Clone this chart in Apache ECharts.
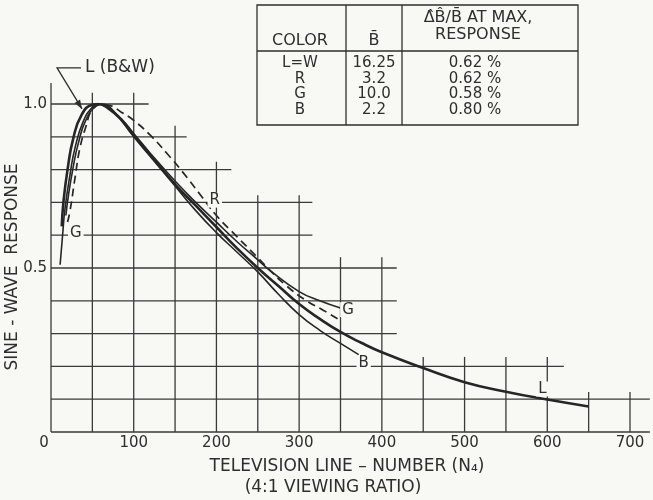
<!DOCTYPE html>
<html>
<head>
<meta charset="utf-8">
<script src="https://cdn.jsdelivr.net/npm/echarts@6/dist/echarts.min.js"></script>
<style>
  html, body { margin: 0; padding: 0; background: #f8f8f4; }
  #chart { width: 653px; height: 500px; }
</style>
</head>
<body>
<div id="chart"></div>
<script>
// Sine-wave response of luminance (B&W) and the three colour primaries
// plotted against television line-number.

const xTicks = [0, 100, 200, 300, 400, 500, 600, 700];
const yTicks = [0, 0.5, 1.0];

// Luminance (L = W), heavy solid curve
const lumaPoints = [
  [13, 0.627], [15, 0.70], [20, 0.80], [27, 0.896], [37, 0.967], [50, 0.998],
  [57, 1.0], [70, 0.985], [85, 0.952], [100, 0.905], [120, 0.845], [150, 0.755],
  [175, 0.69], [200, 0.625], [225, 0.56], [250, 0.50], [275, 0.445], [300, 0.39],
  [325, 0.345], [350, 0.305], [375, 0.272], [400, 0.243], [450, 0.195],
  [500, 0.152], [550, 0.123], [600, 0.099], [650, 0.078]
];
// Red, dashed curve
const redPoints = [
  [20, 0.64], [23, 0.674], [29, 0.774], [35, 0.866], [43, 0.937], [49, 0.979],
  [60, 0.998], [70, 0.996], [85, 0.975], [100, 0.95], [120, 0.905], [140, 0.85],
  [160, 0.79], [180, 0.725], [200, 0.66], [225, 0.595], [249, 0.534], [265, 0.492],
  [285, 0.445], [309, 0.40], [330, 0.37], [348, 0.343]
];
// Green, thin solid curve
const greenPoints = [
  [11, 0.51], [14, 0.60], [17, 0.683], [23, 0.785], [29, 0.866], [39, 0.947],
  [50, 0.99], [58, 1.0], [70, 0.988], [85, 0.955], [100, 0.91], [120, 0.85],
  [150, 0.765], [175, 0.70], [200, 0.64], [225, 0.58], [250, 0.525], [265, 0.492],
  [300, 0.428], [325, 0.40], [350, 0.378]
];
// Blue, thin solid curve
const bluePoints = [
  [18, 0.66], [21, 0.72], [27, 0.81], [33, 0.88], [42, 0.95], [55, 0.995],
  [62, 1.0], [75, 0.98], [100, 0.90], [120, 0.84], [150, 0.75], [175, 0.675],
  [200, 0.608], [225, 0.548], [250, 0.488], [275, 0.42], [300, 0.358],
  [325, 0.31], [350, 0.27], [372, 0.236]
];

// Stepped ruling: horizontal rules [y, xEnd], vertical rules [x, yTop]
const hRules = [
  [0, 724], [0.1, 724], [0.2, 620], [0.3, 418], [0.4, 418], [0.5, 418],
  [0.6, 316], [0.7, 316], [0.8, 218], [0.9, 164], [1.0, 118]
];
const vRules = [
  [0, 1.064], [50, 1.034], [100, 1.034], [150, 0.934], [200, 0.824],
  [250, 0.722], [300, 0.722], [350, 0.533], [400, 0.533], [450, 0.229],
  [500, 0.229], [550, 0.229], [600, 0.229], [650, 0.122], [700, 0.122]
];

// Curve identification letters [x, y, text]
const curveLabels = [
  [198, 0.707, 'R'], [30, 0.606, 'G'], [359, 0.373, 'G'],
  [378, 0.21, 'B'], [594, 0.131, 'L']
];
// Luminance callout: text anchor, then bent arrow path
const calloutText = [41, 1.11, 'L (B&W)'];
const calloutPath = [[36.3, 1.11], [7.3, 1.11], [37.5, 0.985]];

// Table of mean signal and ripple
const tableColors = ['L=W', 'R', 'G', 'B'];
const tableMeanB = ['16.25', '3.2', '10.0', '2.2'];
const tableRipple = ['0.62 %', '0.62 %', '0.58 %', '0.80 %'];

const INK = '#2e2e2e';
const PAPER = '#f8f8f4';
const FONT = '"DejaVu Sans", sans-serif';

const ruleSegments = [];
hRules.forEach(([y, xe]) => ruleSegments.push([0, y, xe, y]));
vRules.forEach(([x, yt]) => ruleSegments.push([x, 0, x, yt]));

// Table graphic elements
const tbl = { left: 257, top: 5, right: 578, bottom: 125, col1: 346, col2: 402, head: 51 };
const tableEls = [
  { type: 'rect', shape: { x: tbl.left, y: tbl.top, width: tbl.right - tbl.left, height: tbl.bottom - tbl.top },
    style: { fill: PAPER, stroke: INK, lineWidth: 1.3 } },
  { type: 'line', shape: { x1: tbl.left, y1: tbl.head, x2: tbl.right, y2: tbl.head }, style: { stroke: INK, lineWidth: 1.3 } },
  { type: 'line', shape: { x1: tbl.col1, y1: tbl.top, x2: tbl.col1, y2: tbl.bottom }, style: { stroke: INK, lineWidth: 1.3 } },
  { type: 'line', shape: { x1: tbl.col2, y1: tbl.top, x2: tbl.col2, y2: tbl.bottom }, style: { stroke: INK, lineWidth: 1.3 } }
];
function tText(x, y, text, size) {
  return { type: 'text', x: x, y: y,
    style: { text: text, fill: INK, font: size + 'px ' + FONT, textAlign: 'center', textVerticalAlign: 'middle' } };
}
tableEls.push(tText(300, 41, 'COLOR', 16));
tableEls.push(tText(374, 41, 'B\u0304', 16));
tableEls.push(tText(478, 18, 'Δ\u0302B\u0302/B\u0304 AT MAX,', 16));
tableEls.push(tText(478, 35, 'RESPONSE', 16));
const rowY = [63, 79, 94.5, 110];
tableColors.forEach((c, i) => {
  tableEls.push(tText(300, rowY[i], c, 15));
  tableEls.push(tText(374, rowY[i], tableMeanB[i], 15));
  tableEls.push(tText(475, rowY[i], tableRipple[i], 15));
});

const chart = echarts.init(document.getElementById('chart'), null, { renderer: 'canvas' });

function curve(name, points, width, dash) {
  return {
    type: 'line', name: name, data: points, z: 3, showSymbol: false, silent: true,
    smooth: 0.5,
    lineStyle: { color: '#262626', width: width, type: dash || 'solid' }
  };
}

const option = {
  backgroundColor: PAPER,
  animation: false,
  grid: { left: 51, right: 23, top: 104, bottom: 68 },
  xAxis: {
    type: 'value', min: xTicks[0], max: xTicks[xTicks.length - 1], interval: 100,
    axisLine: { show: false }, axisTick: { show: false }, splitLine: { show: false },
    axisLabel: {
      margin: 4, color: INK, fontFamily: FONT, fontSize: 15,
      formatter: v => (v === 0 ? '{z|0}' : String(v)),
      rich: { z: { padding: [0, 14, 0, 0], color: INK, fontFamily: FONT, fontSize: 15 } }
    }
  },
  yAxis: {
    type: 'value', min: yTicks[0], max: yTicks[yTicks.length - 1], interval: 0.5,
    axisLine: { show: false }, axisTick: { show: false }, splitLine: { show: false },
    axisLabel: {
      margin: 4, color: INK, fontFamily: FONT, fontSize: 15,
      formatter: v => (v === 0 ? '' : v.toFixed(1))
    }
  },
  graphic: [
    { type: 'text', x: 13, y: 267, rotation: Math.PI / 2,
      style: { text: 'SINE - WAVE  RESPONSE', fill: INK, font: '17px ' + FONT, textAlign: 'center', textVerticalAlign: 'middle' } },
    { type: 'text', x: 347, y: 467,
      style: { text: 'TELEVISION LINE – NUMBER (N₄)', fill: INK, font: '17px ' + FONT, textAlign: 'center', textVerticalAlign: 'middle' } },
    { type: 'text', x: 333, y: 488,
      style: { text: '(4:1 VIEWING RATIO)', fill: INK, font: '17px ' + FONT, textAlign: 'center', textVerticalAlign: 'middle' } },
    { type: 'group', children: tableEls }
  ],
  series: [
    {
      type: 'custom', name: 'rules', z: 1, silent: true, clip: false,
      data: ruleSegments,
      encode: { x: [0, 2], y: [1, 3] },
      renderItem: (params, api) => {
        const p0 = api.coord([api.value(0), api.value(1)]);
        const p1 = api.coord([api.value(2), api.value(3)]);
        return { type: 'line', shape: { x1: p0[0], y1: p0[1], x2: p1[0], y2: p1[1] },
          style: { stroke: '#3a3a3a', lineWidth: 1.3 } };
      }
    },
    curve('L', lumaPoints, 2.6),
    curve('R', redPoints, 1.7, [8, 5]),
    curve('G', greenPoints, 1.6),
    curve('B', bluePoints, 1.6),
    {
      type: 'custom', name: 'callout', z: 4, silent: true, clip: false,
      data: [[0]],
      renderItem: (params, api) => {
        const pts = calloutPath.map(p => api.coord(p));
        const tip = pts[pts.length - 1];
        const prev = pts[pts.length - 2];
        const ang = Math.atan2(tip[1] - prev[1], tip[0] - prev[0]);
        const len = 9, half = 3.2;
        const bx = tip[0] - len * Math.cos(ang), by = tip[1] - len * Math.sin(ang);
        const nx = -Math.sin(ang), ny = Math.cos(ang);
        return {
          type: 'group',
          children: [
            { type: 'polyline', shape: { points: pts }, style: { stroke: INK, lineWidth: 1.3, fill: null } },
            { type: 'polygon', shape: { points: [tip, [bx + nx * half, by + ny * half], [bx - nx * half, by - ny * half]] },
              style: { fill: INK } }
          ]
        };
      }
    },
    {
      type: 'scatter', name: 'labels', z: 5, silent: true, symbolSize: 0, clip: false,
      itemStyle: { opacity: 1 },
      data: curveLabels.map(([x, y, t]) => ({ value: [x, y], name: t })).concat([
        { value: [calloutText[0], calloutText[1]], name: calloutText[2],
          label: { position: 'right', distance: 0, fontSize: 17, padding: 0 } }
      ]),
      label: {
        show: true, position: 'inside', formatter: '{b}', opacity: 1,
        color: INK, fontFamily: FONT, fontSize: 15,
        backgroundColor: PAPER, padding: [0, 2]
      }
    }
  ]
};

chart.setOption(option);
</script>
</body>
</html>
